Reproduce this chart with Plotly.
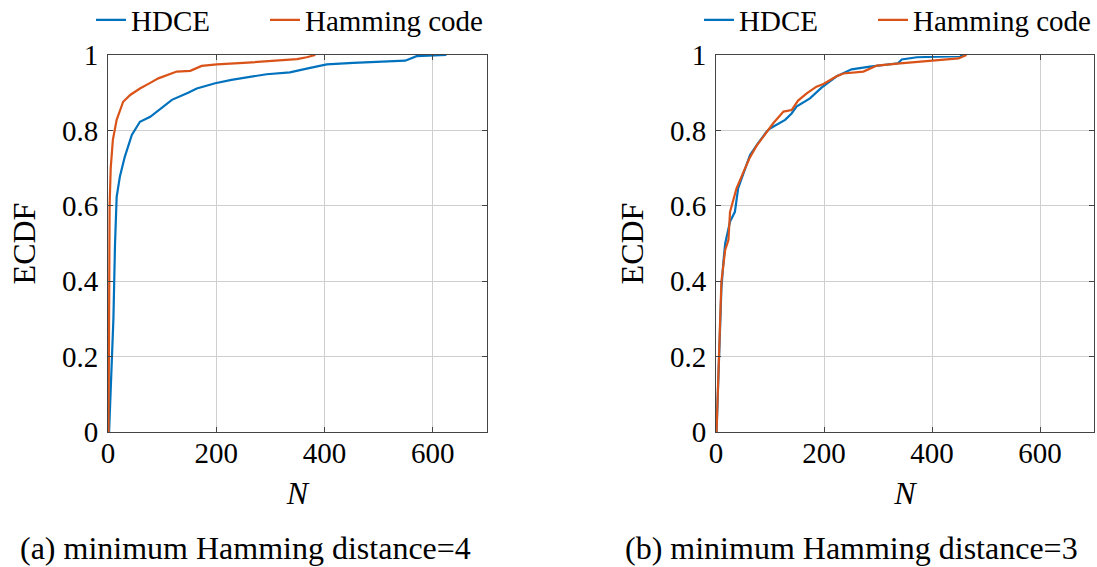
import plotly.graph_objects as go

# ---- data ----
n_a_hdce = [2, 5, 10, 13, 16, 22, 31, 44, 59, 78, 118, 148, 164, 198, 228, 293, 336, 367, 395, 404, 453, 549, 570, 625]
e_a_hdce = [0, 0.1, 0.3, 0.5, 0.624, 0.678, 0.73, 0.788, 0.823, 0.836, 0.881, 0.9, 0.911, 0.925, 0.934, 0.949, 0.954, 0.964, 0.971, 0.975, 0.979, 0.985, 0.997, 1.0]

n_a_ham = [1, 2, 3, 5, 9, 16, 28, 41, 59, 78, 93, 127, 152, 173, 201, 250, 293, 349, 367, 383]
e_a_ham = [0, 0.4, 0.6, 0.7, 0.775, 0.828, 0.876, 0.894, 0.911, 0.926, 0.938, 0.956, 0.958, 0.971, 0.975, 0.979, 0.984, 0.989, 0.994, 1.0]

n_b_hdce = [1, 6, 10, 14, 17, 26, 35, 41, 51, 63, 78, 94, 100, 128, 140, 149, 174, 196, 224, 251, 285, 337, 344, 372, 452, 458]
e_b_hdce = [0, 0.2, 0.38, 0.456, 0.5, 0.558, 0.584, 0.646, 0.686, 0.735, 0.766, 0.797, 0.805, 0.828, 0.845, 0.863, 0.885, 0.914, 0.944, 0.962, 0.969, 0.978, 0.988, 0.994, 0.997, 1.0]

n_b_ham = [1, 6, 10, 17, 23, 26, 38, 51, 62, 75, 94, 106, 125, 140, 152, 168, 186, 199, 224, 236, 273, 298, 341, 402, 449, 464]
e_b_ham = [0, 0.2, 0.399, 0.483, 0.509, 0.584, 0.646, 0.69, 0.726, 0.759, 0.797, 0.819, 0.85, 0.854, 0.879, 0.898, 0.916, 0.923, 0.944, 0.951, 0.956, 0.972, 0.978, 0.985, 0.991, 1.0]

series_names = ["HDCE", "Hamming code"]
x_ticks = [0, 200, 400, 600]
y_ticks = [0, 0.2, 0.4, 0.6, 0.8, 1]
captions = ["(a) minimum Hamming distance=4", "(b) minimum Hamming distance=3"]

BLUE = "#0072BD"
ORANGE = "#D95319"
FONT = "Liberation Serif"

W, H = 1097, 567

fig = go.Figure()
fig.add_trace(go.Scatter(x=n_a_hdce, y=e_a_hdce, mode="lines", name=series_names[0],
                         line=dict(color=BLUE, width=2.2), xaxis="x", yaxis="y", legend="legend"))
fig.add_trace(go.Scatter(x=n_a_ham, y=e_a_ham, mode="lines", name=series_names[1],
                         line=dict(color=ORANGE, width=2.2), xaxis="x", yaxis="y", legend="legend2"))
fig.add_trace(go.Scatter(x=n_b_hdce, y=e_b_hdce, mode="lines", name=series_names[0],
                         line=dict(color=BLUE, width=2.2), xaxis="x2", yaxis="y2", legend="legend3"))
fig.add_trace(go.Scatter(x=n_b_ham, y=e_b_ham, mode="lines", name=series_names[1],
                         line=dict(color=ORANGE, width=2.2), xaxis="x2", yaxis="y2", legend="legend4"))

ydom = [1 - 432 / H, 1 - 55 / H]

def xax(dom, anchor):
    return dict(domain=dom, anchor=anchor, range=[0, 700], tickvals=x_ticks,
                showgrid=True, gridcolor="#cfcfcf", gridwidth=1, zeroline=False,
                showline=True, linecolor="#444444", linewidth=1, mirror="allticks",
                ticks="inside", ticklen=5, tickcolor="#444444", ticklabelstandoff=-5,
                tickfont=dict(family=FONT, size=29, color="black"),
                title=dict(text="<i>N</i>", font=dict(family=FONT, size=32, color="black"), standoff=13))

def yax(anchor):
    return dict(domain=ydom, anchor=anchor, range=[0, 1], tickvals=y_ticks,
                showgrid=True, gridcolor="#cfcfcf", gridwidth=1, zeroline=False,
                showline=True, linecolor="#444444", linewidth=1, mirror="allticks",
                ticks="inside", ticklen=5, tickcolor="#444444", ticklabelstandoff=3,
                tickfont=dict(family=FONT, size=29, color="black"),
                title=dict(text="ECDF", font=dict(family=FONT, size=32, color="black"), standoff=16))

def leg(xpix):
    return dict(visible=True, orientation="h", yanchor="middle", y=1 - 20 / H, xanchor="left", x=xpix / W,
                font=dict(family=FONT, size=29, color="black"),
                bgcolor="rgba(0,0,0,0)", borderwidth=0, itemwidth=30)

fig.update_layout(
    width=W, height=H, margin=dict(l=0, r=0, t=0, b=0, autoexpand=False),
    paper_bgcolor="white", plot_bgcolor="white", showlegend=True,
    font=dict(family=FONT),
    xaxis=xax([108 / W, 487 / W], "y"),
    yaxis=yax("x"),
    xaxis2=xax([716 / W, 1094 / W], "y2"),
    yaxis2=yax("x2"),
    legend=leg(91), legend2=leg(265), legend3=leg(699), legend4=leg(873),
    annotations=[
        dict(text=captions[0], x=245 / W, y=1 - 548 / H, xref="paper", yref="paper",
             showarrow=False, xanchor="center", yanchor="middle",
             font=dict(family=FONT, size=32, color="black")),
        dict(text=captions[1], x=851 / W, y=1 - 548 / H, xref="paper", yref="paper",
             showarrow=False, xanchor="center", yanchor="middle",
             font=dict(family=FONT, size=32, color="black")),
    ],
)

fig.write_html("out.html")
